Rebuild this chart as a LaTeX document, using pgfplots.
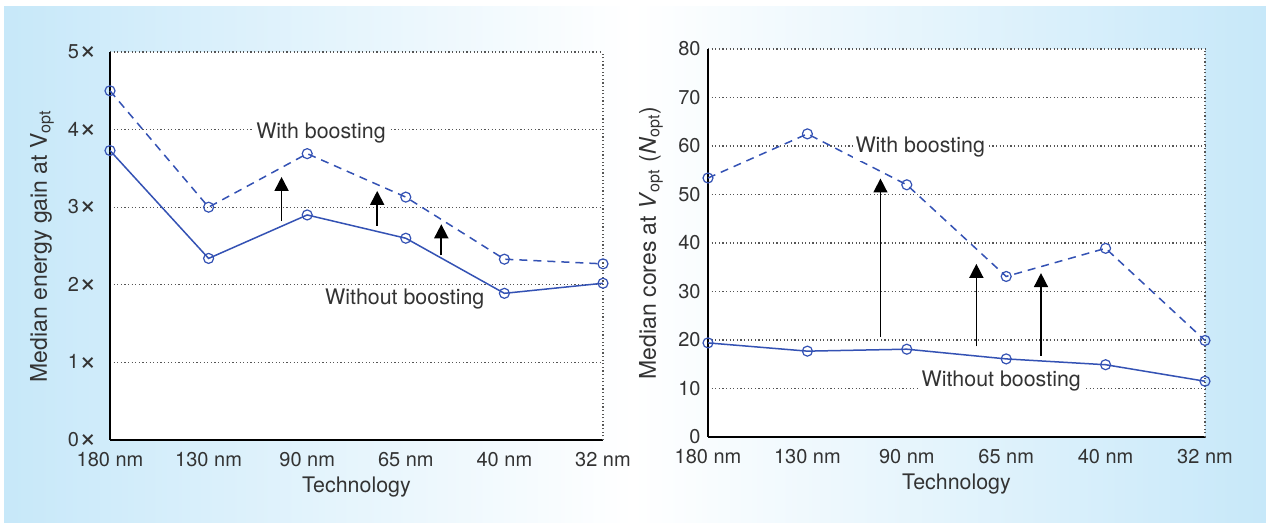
\documentclass[border=0pt]{standalone}
\usepackage{fontspec}
\setmainfont{TeX Gyre Heros}
\usepackage{graphicx}
\usepackage{pgfplots}
\pgfplotsset{compat=1.18}
\usetikzlibrary{arrows.meta}
\definecolor{bgblue}{RGB}{199,232,249}
\definecolor{lineblue}{RGB}{52,82,180}
\definecolor{txt}{RGB}{51,51,51}
\definecolor{gridc}{RGB}{85,85,85}
\newcommand{\X}{\raisebox{-0.12ex}{\scalebox{1.5}{×}}}
\tikzset{gridline/.style={draw=gridc, line width=0.6pt, dash pattern=on 0.6pt off 1.2pt}}
\pgfplotsset{
  mystyle/.style={
    scale only axis, height=194pt,
    xmin=0, xmax=5, xtick={0,...,5},
    xticklabels={180 nm,130 nm,90 nm,65 nm,40 nm,32 nm},
    axis x line*=bottom, axis y line*=left,
    axis line style={-, line width=0.8pt, draw=black},
    major tick length=0pt,
    ymajorgrids, grid style={gridline},
    axis background/.style={fill=white},
    clip=false,
    tick label style={font=\fontsize{10}{12}\selectfont, text=txt},
    label style={font=\fontsize{10.7}{13}\selectfont, text=txt},
    xticklabel style={anchor=north, inner sep=0pt, yshift=-6pt},
    xlabel style={at={(axis description cs:0.5,0)}, anchor=north, inner sep=0pt, yshift=-18.5pt},
    ylabel style={anchor=south, inner sep=0pt, font=\fontsize{11.5}{13}\selectfont},
    /pgf/number format/assume math mode=true,
  },
  with/.style={color=lineblue, line width=0.75pt, dash pattern=on 4pt off 3pt, mark=o, mark size=2.5pt, mark options={solid, line width=0.6pt}},
  without/.style={color=lineblue, line width=0.75pt, mark=o, mark size=2.5pt, mark options={solid, line width=0.6pt}},
}
\begin{document}
\begin{tikzpicture}
\useasboundingbox (0,0) rectangle (633pt,261.5pt);
\shade[left color=bgblue, right color=white] (2pt,0) rectangle (316.5pt,258pt);
\shade[left color=white, right color=bgblue] (316.5pt,0) rectangle (633pt,258pt);

% Left panel
\begin{axis}[mystyle, width=246.5pt, at={(55pt,41.5pt)}, anchor=south west,
  ymin=0, ymax=5, ytick={0,...,5},
  yticklabels={0\X,1\X,2\X,3\X,4\X,5\X},
  yticklabel style={anchor=east, inner sep=0pt, xshift=-6.5pt},
  xlabel={Technology},
  ylabel={Median energy gain at V\textsubscript{opt}},
  ylabel style={at={(axis description cs:-0.113,0.5)}},
]
\draw[gridline] (axis cs:5,0) -- (axis cs:5,5);
\addplot[with] coordinates {(0,4.50) (1,3.00) (2,3.69) (3,3.13) (4,2.33) (5,2.27)};
\addplot[without] coordinates {(0,3.73) (1,2.34) (2,2.90) (3,2.60) (4,1.89) (5,2.02)};
\node[fill=white, inner sep=1.5pt, text=txt, font=\fontsize{10.7}{13}\selectfont] at (axis cs:2.14,3.96) {With boosting};
\node[fill=white, inner sep=1.5pt, text=txt, font=\fontsize{10.7}{13}\selectfont] at (axis cs:2.99,1.82) {Without boosting};
\draw[line width=0.9pt, -{Triangle[width=7pt,length=7pt]}] (axis cs:1.74,2.82) -- (axis cs:1.74,3.39);
\draw[line width=0.9pt, -{Triangle[width=7pt,length=7pt]}] (axis cs:2.71,2.76) -- (axis cs:2.71,3.21);
\draw[line width=0.9pt, -{Triangle[width=7pt,length=7pt]}] (axis cs:3.36,2.38) -- (axis cs:3.36,2.78);
\end{axis}

% Right panel
\begin{axis}[mystyle, width=248.5pt, at={(354pt,43pt)}, anchor=south west,
  ymin=0, ymax=80, ytick={0,10,...,80},
  yticklabels={0,10,20,30,40,50,60,70,80},
  yticklabel style={anchor=east, inner sep=0pt, xshift=-3.5pt},
  xlabel={Technology},
  ylabel={Median cores at \textit{V}\textsubscript{opt} (\textit{N}\textsubscript{opt})},
  ylabel style={at={(axis description cs:-0.09,0.5)}},
]
\draw[gridline] (axis cs:5,0) -- (axis cs:5,80);
\addplot[with] coordinates {(0,53.4) (1,62.5) (2,52.0) (3,33.1) (4,38.9) (5,19.9)};
\addplot[without] coordinates {(0,19.4) (1,17.7) (2,18.1) (3,16.1) (4,14.9) (5,11.5)};
\node[fill=white, inner sep=1.5pt, text=txt, font=\fontsize{10.7}{13}\selectfont] at (axis cs:2.135,59.7) {With boosting};
\node[fill=white, inner sep=1.5pt, text=txt, font=\fontsize{10.7}{13}\selectfont] at (axis cs:2.95,11.6) {Without boosting};
\draw[line width=0.75pt, -{Triangle[width=7pt,length=7pt]}] (axis cs:1.735,20.6) -- (axis cs:1.735,53.3);
\draw[line width=0.75pt, -{Triangle[width=7pt,length=7pt]}] (axis cs:2.70,18.7) -- (axis cs:2.70,35.7);
\draw[line width=0.75pt, -{Triangle[width=7pt,length=7pt]}] (axis cs:3.35,16.8) -- (axis cs:3.35,33.8);
\end{axis}
\end{tikzpicture}
\end{document}
